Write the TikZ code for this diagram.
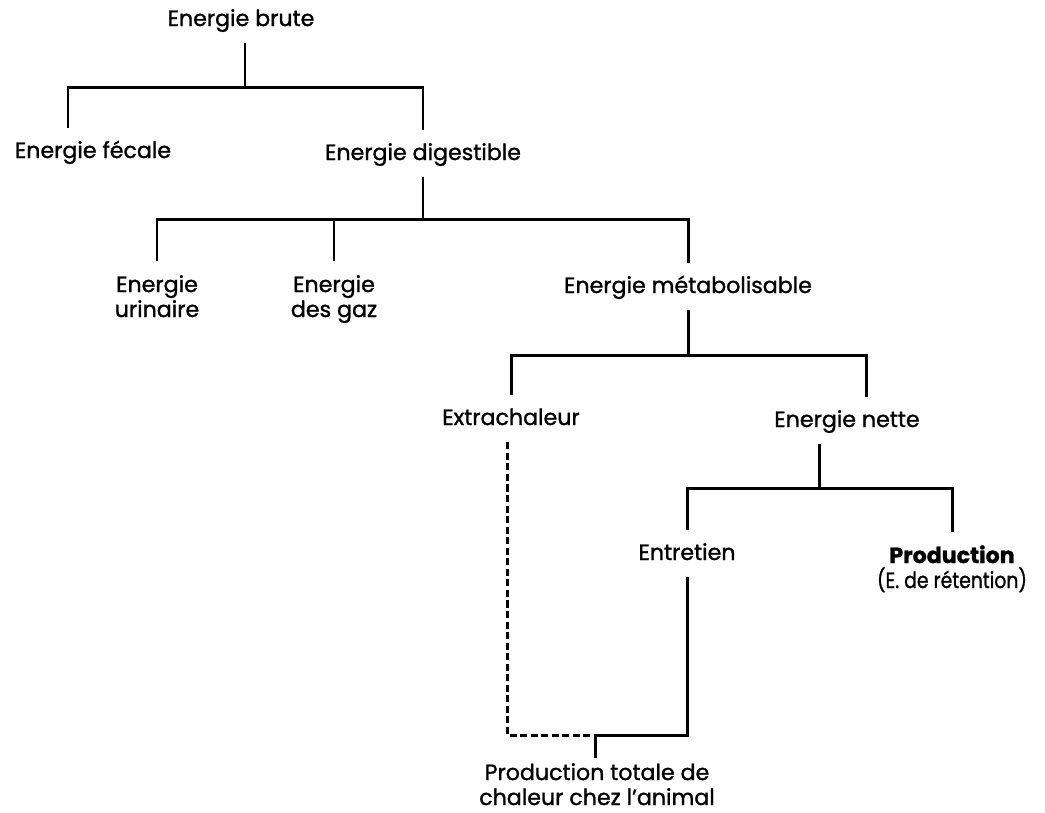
\documentclass[tikz,border=0pt]{standalone}
\usepackage{fontspec}
\setmainfont{Poppins}[FakeBold=1.2]
\begin{document}
\begin{tikzpicture}[
    every node/.style={font=\fontsize{12.6}{14.2}\selectfont, align=center, anchor=base,
        text height=9pt, text depth=2pt, inner ysep=7pt, inner xsep=0pt},
    twolines/.style={text height={}, text depth={}},
    line width=1.7pt]

        \useasboundingbox (0,0) rectangle (20.9,-16.24);

        \node (brute) at (4.82,-0.52) {Energie brute};
        \node (fecale) at (1.86,-3.16) {Energie fécale};
        \node (digest) at (8.46,-3.20) {Energie digestible};
        \node[twolines] (urin) at (3.14,-6.34) {Energie\\urinaire};
        \node[twolines] (gaz) at (6.68,-6.34) {Energie\\des gaz};
        \node (metab) at (13.76,-5.86) {Energie métabolisable};
        \node (extra) at (10.22,-8.50) {Extrachaleur};
        \node (nette) at (16.94,-8.54) {Energie nette};
        \node (entre) at (13.74,-11.20) {Entretien};
        \node[twolines] (prod) at (19.04,-11.76) {\textbf{Production}\\\scalebox{0.85}[1]{(E. de rétention)}};
        \node[twolines, inner ysep=2pt] (total) at (11.94,-16.10) {Production totale de\\chaleur chez l'animal};

        \coordinate (b1) at (4.9,-1.74);
        \coordinate (b2) at (8.48,-4.38);
        \coordinate (b3) at (13.76,-7.10);
        \coordinate (b4) at (16.38,-9.76);
        \coordinate (b5) at (11.9,-14.70);

        \draw (brute.south -| b1) -- (b1);
        \draw ([xshift=-0.5cm]fecale.north) |- (b1) -| (digest.north);

        \draw (digest.south) -- (digest.south |- b2);
        \draw (urin.north) |- (b2) -| (metab.north);
        \draw (gaz.north) -- (gaz.north |- b2);

        \draw (metab.south) -- (b3);
        \draw (extra.north) |- (b3) -| ([xshift=0.38cm]nette.north);

        \draw (nette.south -| b4) -- (b4);
        \draw (entre.north) |- (b4) -| (prod.north);

        \draw (entre.south) |- (b5);
        \draw[dash pattern=on 4pt off 2pt] ([xshift=-0.08cm]extra.south) |- (b5);
        \draw (b5) -- (b5 |- total.north);

\end{tikzpicture}
\end{document}
